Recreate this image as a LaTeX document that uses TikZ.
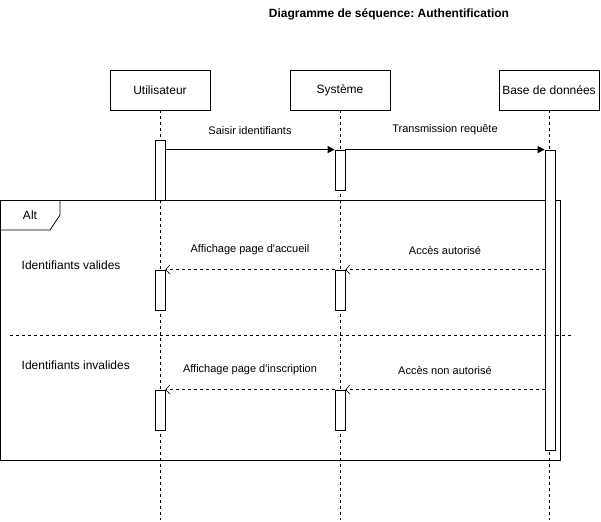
\documentclass[tikz,border=0pt]{standalone}
\usepackage{fontspec}
\setmainfont{Liberation Sans}
\usetikzlibrary{arrows.meta}
\frenchspacing

\begin{document}
\begin{tikzpicture}[x=1pt, y=-1pt, line width=0.8pt,
		actor/.style={draw, minimum width=100pt, minimum height=40pt, font=\fontsize{12}{14}\selectfont},
		bar/.style={draw, fill=white, minimum width=10pt, inner sep=0pt},
		lifeline/.style={line width=0.6pt, dash pattern=on 3pt off 3pt},
		call/.style={draw, -{Triangle[length=7pt, width=7pt]}},
		reply/.style={draw, line width=0.6pt, dash pattern=on 3pt off 3pt, -{Straight Barb[length=4pt, width=9pt]}},
		msg/.style={font=\fontsize{11}{13}\selectfont},
		guard/.style={font=\fontsize{12}{14}\selectfont, anchor=west}
	]
	\useasboundingbox (0,0) rectangle (601,521);

	\node[font=\bfseries\fontsize{12}{14}\selectfont] at (389,14) (title) {Diagramme de séquence: Authentification};

	\foreach \name/\x/\txt in {user/160/Utilisateur, sys/340/Système, db/549/Base de données}{
		\node[actor] at (\x, 90) (\name) {\txt};
		\coordinate (\name-end) at (\x, 520);
		\draw[lifeline] (\name) -- (\name-end);
	}

	% Alt frame
	\node[draw, anchor=north west, minimum width=560pt, minimum height=260pt, inner sep=0pt] at (0,200) (alt) {};
	\draw (alt.north west) ++(60,0) -- ++(0,15) -- ++(-10,15) -- ++(-50,0);
	\node[guard, anchor=center] at (30,215) (altlabel) {Alt};
	\draw[lifeline] (10,335) -- (571,335);

	\node[guard] at (18,265) (valid) {Identifiants valides};
	\node[guard] at (18,365) (invalid) {Identifiants invalides};

	% activations
	\node[bar, minimum height=60pt] at (160,170) (ua) {};
	\node[bar, minimum height=40pt] at (340,170) (sa) {};
	\node[bar, minimum height=300pt] at (550,300) (da) {};
	\foreach \y/\s in {290/b, 410/c}{
		\node[bar, minimum height=40pt] at (160,\y) (u\s) {};
		\node[bar, minimum height=40pt] at (340,\y) (s\s) {};
	}

	% messages
	\draw[call] (ua.east |- sa.north) -- node[msg, above=11pt] {Saisir identifiants} (sa.north west);
	\draw[call] (sa.north east) -- node[msg, above=11pt] {Transmission requête} (da.north west);

	\draw[reply] (da.west |- sb.north) -- node[msg, above=11pt] {Accès autorisé} (sb.north east);
	\draw[reply] (sb.north west) -- node[msg, above=11pt] {Affichage page d\textquotesingle accueil} (ub.north east);
	\draw[reply] (da.west |- sc.north) -- node[msg, above=11pt] {Accès non autorisé} (sc.north east);
	\draw[reply] (sc.north west) -- node[msg, above=11pt] {Affichage page d\textquotesingle inscription} (uc.north east);

\end{tikzpicture}
\end{document}
